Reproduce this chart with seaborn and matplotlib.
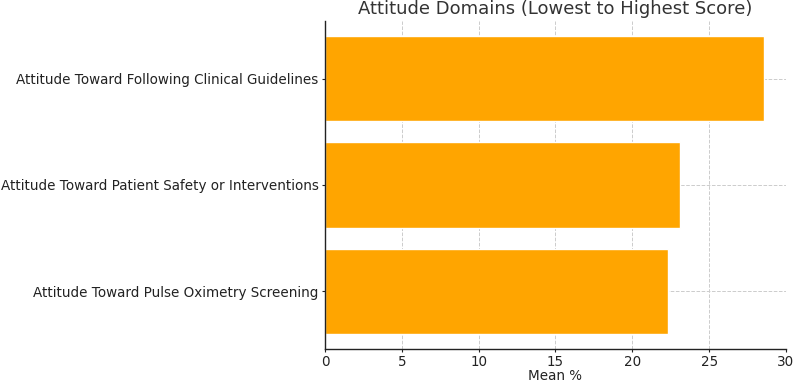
import matplotlib
matplotlib.use("Agg")
import matplotlib.pyplot as plt
import seaborn as sns
import pandas as pd

categories = [
    "Attitude Toward Following Clinical Guidelines",
    "Attitude Toward Patient Safety or Interventions",
    "Attitude Toward Pulse Oximetry Screening",
]
mean_pct = [28.6, 23.1, 22.3]

df = pd.DataFrame({"Domain": categories, "Mean": mean_pct})

sns.set_style("white")
plt.rcParams['font.family'] = ['DejaVu Sans']

W, H = 794, 383
fig = plt.figure(figsize=(W / 100, H / 100), dpi=100)
left, right, top, bottom = 325, 786, 21, 349
ax = fig.add_axes([left / W, 1 - bottom / H, (right - left) / W, (bottom - top) / H])
sns.barplot(data=df, x="Mean", y="Domain", orient="h", color="#FFA500",
            saturation=1, width=0.8, ax=ax)
ax.set_xlim(0, 30)
ax.set_ylim(2.54, -0.54)
ax.set_xticks([0, 5, 10, 15, 20, 25, 30])
ax.set_xlabel("Mean %", fontsize=9.75, color="#222222", labelpad=0)
ax.set_ylabel("")
ax.set_title("Attitude Domains (Lowest to Highest Score)", fontsize=13, color="#333333", pad=5)
ax.grid(True, linestyle="--", color="#cccccc", linewidth=0.7)
ax.set_axisbelow(True)
for s in ["top", "right"]:
    ax.spines[s].set_visible(False)
for s in ["left", "bottom"]:
    ax.spines[s].set_color("#222222")
    ax.spines[s].set_linewidth(1.0)
ax.tick_params(axis="both", labelsize=9.75, colors="#222222", length=2.5, pad=2,
               left=True, bottom=True)
fig.savefig("out.png", dpi=100)
